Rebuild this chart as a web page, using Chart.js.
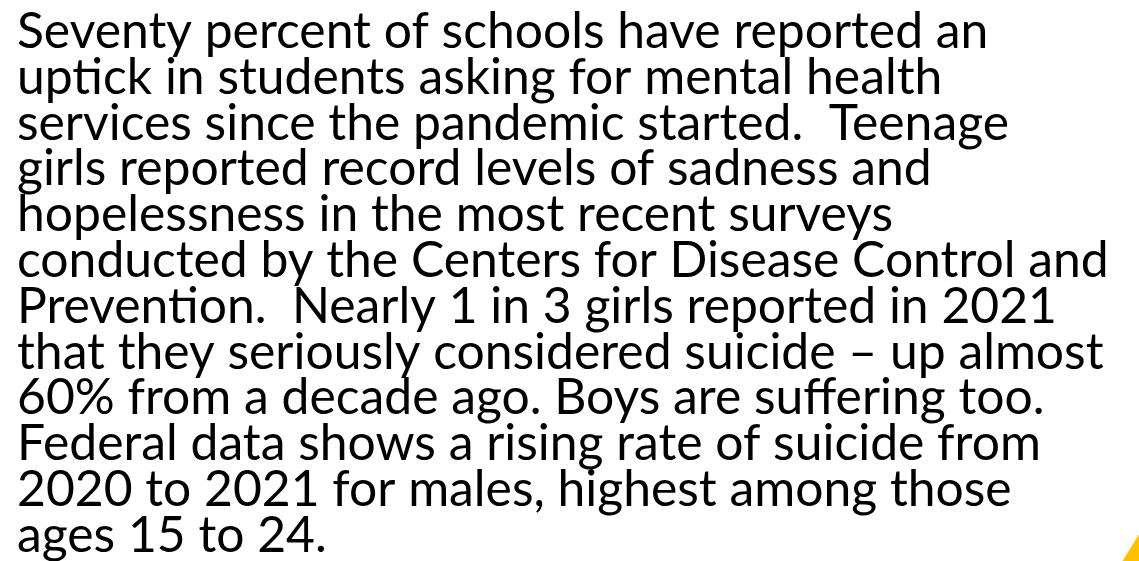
<!DOCTYPE html>
<html>
<head>
<meta charset="utf-8">
<script src="https://cdn.jsdelivr.net/npm/chart.js@4.4.0/dist/chart.umd.min.js"></script>
<style>
  html, body { margin:0; padding:0; background:#fff; overflow:hidden; }
  .wrap { position:relative; width:1139px; height:561px; }
  .wrap canvas { position:absolute; left:0; top:0; }
</style>
</head>
<body>
<div class="wrap">
  <canvas id="textChart" width="1139" height="561"></canvas>
  <canvas id="cornerChart" width="1139" height="561"></canvas>
</div>
<script>
// Slide text, one entry per line as laid out on the slide
const slideLines = [
  'Seventy percent of schools have reported an',
  'uptick in students asking for mental health',
  'services since the pandemic started.  Teenage',
  'girls reported record levels of sadness and',
  'hopelessness in the most recent surveys',
  'conducted by the Centers for Disease Control and',
  'Prevention.  Nearly 1 in 3 girls reported in 2021',
  'that they seriously considered suicide \u2013 up almost',
  '60% from a decade ago. Boys are suffering too.',
  'Federal data shows a rising rate of suicide from',
  '2020 to 2021 for males, highest among those',
  'ages 15 to 24.'
];

// Yellow corner accent (slide decoration), in slide units
const cornerX = [1123, 1149, 1175];
const cornerY = [0, 42, 0];

const FONT = 'Lato';

// fit the font so the widest line spans like the original
function fitSize(){
  const c = document.createElement('canvas').getContext('2d');
  c.font = '100px ' + FONT;
  const w = c.measureText(slideLines[5]).width;
  return 100 * 1092 / w;
}
const size = fitSize();

new Chart(document.getElementById('textChart'), {
  type: 'line',
  data: { labels: [], datasets: [] },
  options: {
    responsive: false,
    animation: false,
    layout: { padding: { left: 17, top: 0, right: 0, bottom: 0 } },
    plugins: {
      legend: { display:false },
      tooltip: { enabled:false },
      title: {
        display: true,
        text: slideLines,
        align: 'start',
        color: '#000',
        padding: { top: 9, bottom: 0 },
        font: { family: FONT, size: size, weight: 'normal', lineHeight: '45.8px' }
      }
    },
    scales: { x: { display:false }, y: { display:false } }
  }
});

new Chart(document.getElementById('cornerChart'), {
  type: 'line',
  data: {
    datasets: [{
      data: cornerX.map((x, i) => ({ x: x, y: cornerY[i] })),
      fill: 'origin',
      backgroundColor: '#FFC000',
      borderColor: '#FFC000',
      borderWidth: 1,
      pointRadius: 0,
      tension: 0
    }]
  },
  options: {
    responsive: false,
    animation: false,
    layout: { padding: 0 },
    plugins: { legend: { display:false }, tooltip: { enabled:false } },
    scales: {
      x: { type:'linear', min:0, max:1139, display:false },
      y: { type:'linear', min:0, max:561, display:false }
    }
  }
});
</script>
</body>
</html>
